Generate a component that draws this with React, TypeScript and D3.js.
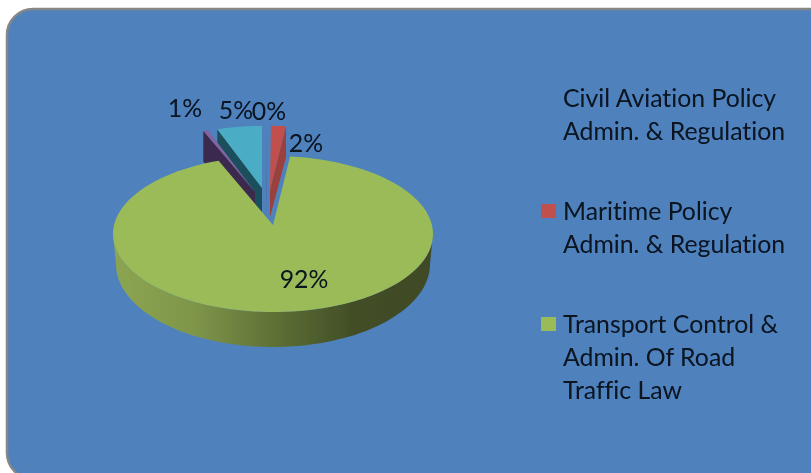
import React from "react";
import * as d3 from "d3";

const categories = ["Civil", "Maritime", "Transport", "Other A", "Other B"];
const values = [0.1, 1.6, 92.4, 0.5, 5.0];
const topColors = ["#4F81BD", "#C0504D", "#9BBB59", "#8064A2", "#4BACC6"];
const wallColors = ["#3F6797", "#9A3F3C", "#9BBB59", "#3A2C4E", "#1F4F5C"];
// per-slice exploded layout: apex position and foreshortening scale
const apexX = [266, 270, 273, 255, 262];
const apexY = [190, 190, 225, 192, 188];
const scaleK = [0.93, 0.93, 1, 0.95, 0.9];
const drawOrder = [0, 1, 4, 3, 2];
const labelX = [269, 306, 304, 185, 236];
const labelY = [120, 152, 288, 117, 119];
const legendLines = [
  ["Civil Aviation Policy", "Admin. & Regulation"],
  ["Maritime Policy", "Admin. & Regulation"],
  ["Transport Control &", "Admin. Of Road", "Traffic Law"],
];
const legendBaselines = [
  [107, 140],
  [220, 253],
  [333, 366, 399],
];
const legendSwatchY = [91, 204, 317];

const W = 811;
const H = 473;
const CX = 273;
const CY = 234;
const RX = 160;
const RY = 78;
const LOWER_CY = 264;
const LOWER_RX = 157;
const LOWER_RY = 83;
const OUTER_DEPTH = 31;
const INNER_DEPTH = 27;
const TEXT = "#08121F";
const FONT = "Lato, 'Open Sans', sans-serif";

const pie = d3.pie<number>().sort(null).startAngle(0).endAngle(2 * Math.PI);
const arcs = pie(values);
const line = d3.line<[number, number]>();

function project(i: number, a: number): [number, number] {
  const k = scaleK[i];
  return [
    apexX[i] + k * RX * Math.sin(a),
    apexY[i] + k * (CY - apexY[2] - RY * Math.cos(a)),
  ];
}
function sweep(a0: number, a1: number, n = 90) {
  return d3.range(n + 1).map((j) => a0 + ((a1 - a0) * j) / n);
}
function topPath(i: number) {
  const { startAngle, endAngle } = arcs[i];
  const pts: [number, number][] = [
    [apexX[i], apexY[i]],
    ...sweep(startAngle, endAngle, 120).map((a) => project(i, a)),
  ];
  return line(pts) + "Z";
}
function wallPath(i: number) {
  const { startAngle, endAngle } = arcs[i];
  const a = (startAngle + endAngle) / 2 < Math.PI ? endAngle : startAngle;
  const o = project(i, a);
  return (
    line([
      [apexX[i], apexY[i]],
      o,
      [o[0], o[1] + OUTER_DEPTH],
      [apexX[i], apexY[i] + INNER_DEPTH],
    ]) + "Z"
  );
}
function frontWallPath() {
  const upper = sweep(Math.PI / 2, (3 * Math.PI) / 2).map(
    (a) => [CX + RX * Math.sin(a), CY - RY * Math.cos(a)] as [number, number]
  );
  const lower = sweep((3 * Math.PI) / 2, Math.PI / 2).map(
    (a) =>
      [CX + LOWER_RX * Math.sin(a), LOWER_CY - LOWER_RY * Math.cos(a)] as [
        number,
        number
      ]
  );
  return line([...upper, ...lower]) + "Z";
}

export default function App() {
  return (
    <svg
      width={W}
      height={H}
      viewBox={`0 0 ${W} ${H}`}
      style={{ position: "fixed", left: 0, top: 0, display: "block" }}
      role="img"
      aria-label={categories.join(", ")}
    >
      <defs>
        <linearGradient id="greenWall" gradientUnits="userSpaceOnUse" x1={113} x2={433} y1={0} y2={0}>
          <stop offset="0" stopColor="#8CA552" />
          <stop offset="0.25" stopColor="#7F964A" />
          <stop offset="0.55" stopColor="#586A32" />
          <stop offset="0.75" stopColor="#424E27" />
          <stop offset="1" stopColor="#3F4A25" />
        </linearGradient>
        <filter id="soft" x="-5%" y="-5%" width="110%" height="110%">
          <feGaussianBlur stdDeviation="0.5" />
        </filter>
      </defs>
      <rect width={W} height={H} fill="#fff" />
      <rect x={7} y={9} width={860} height={470} rx={26} ry={26} fill="#4F81BD" stroke="#868686" strokeWidth={2.5} />
      <g filter="url(#soft)">
        <path d={frontWallPath()} fill="url(#greenWall)" />
        {drawOrder.map((i) => (
          <g key={categories[i]}>
            {i !== 2 && <path d={wallPath(i)} fill={wallColors[i]} />}
            <path d={topPath(i)} fill={topColors[i]} />
          </g>
        ))}
        <g fontFamily={FONT} fontSize={24.8} fill={TEXT} style={{ fontVariantLigatures: "none" }}>
          {values.map((v, i) => (
            <text key={i} x={labelX[i]} y={labelY[i]} textAnchor="middle">
              {Math.round(v)}%
            </text>
          ))}
          {legendLines.map((lines, i) => (
            <g key={i}>
              <rect x={541} y={legendSwatchY[i]} width={15} height={14} fill={topColors[i]} />
              {lines.map((t, j) => (
                <text key={j} x={563} y={legendBaselines[i][j]}>
                  {t}
                </text>
              ))}
            </g>
          ))}
        </g>
      </g>
    </svg>
  );
}
